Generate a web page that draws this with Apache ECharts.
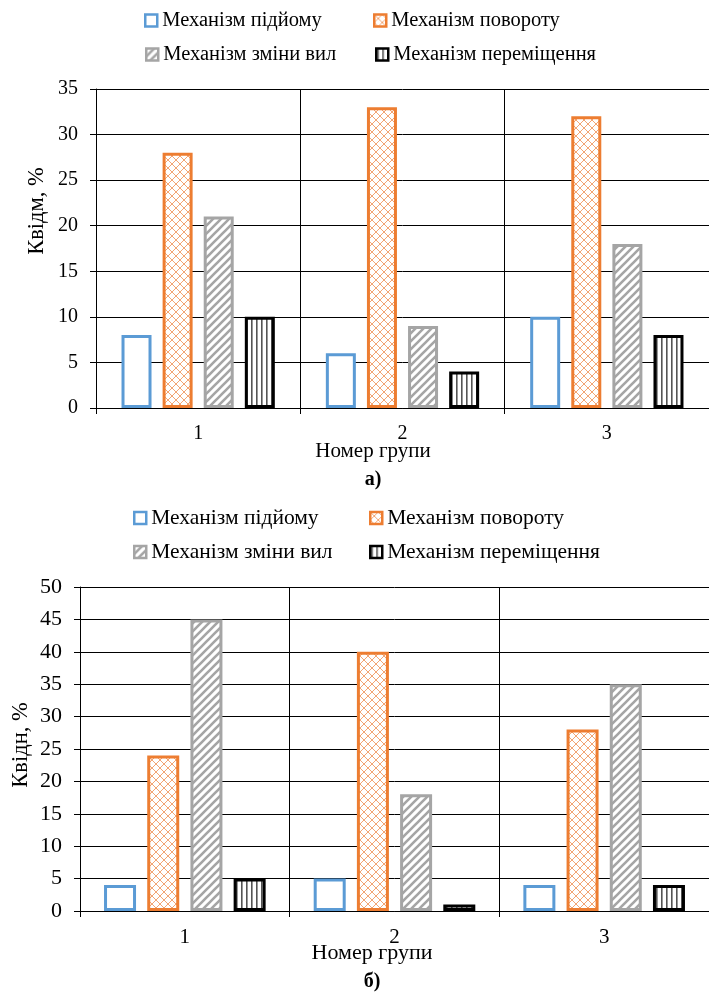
<!DOCTYPE html>
<html>
<head>
<meta charset="utf-8">
<script src="https://cdn.jsdelivr.net/npm/echarts@6/dist/echarts.min.js"></script>
<style>
html,body{margin:0;padding:0;background:#fff;}
#c{width:709px;height:996px;}
</style>
</head>
<body>
<div id="c"></div>
<script>
// ---- data ----
const categories = ['1', '2', '3'];
const seriesNames = ['Механізм підйому', 'Механізм повороту', 'Механізм зміни вил', 'Механізм переміщення'];
// chart а) Квідм, %
const a_lift   = [8, 6, 10];
const a_rotate = [28, 33, 32];
const a_forks  = [21, 9, 18];
const a_move   = [10, 4, 8];
// chart б) Квідн, %
const b_lift   = [4, 5, 4];
const b_rotate = [24, 40, 28];
const b_forks  = [45, 18, 35];
const b_move   = [5, 1, 4];
const yTicksA = {min: 0, max: 35, interval: 5};
const yTicksB = {min: 0, max: 50, interval: 5};

const FONT = "'Times New Roman', 'Liberation Serif', Tinos, 'DejaVu Serif', 'Noto Serif', serif";

function tile(w, h, draw) {
  const c = document.createElement('canvas');
  c.width = w; c.height = h;
  const g = c.getContext('2d');
  g.fillStyle = '#fff';
  g.fillRect(0, 0, w, h);
  draw(g);
  return {image: c, repeat: 'repeat'};
}
const patCross = tile(8, 8, g => {
  g.strokeStyle = '#F2A574'; g.lineWidth = 1;
  g.beginPath();
  g.moveTo(0, 0); g.lineTo(8, 8);
  g.moveTo(8, 0); g.lineTo(0, 8);
  g.stroke();
});
const patDiag = tile(8, 8, g => {
  g.strokeStyle = '#A5A5A5'; g.lineWidth = 2.6;
  g.beginPath();
  g.moveTo(-2, 10); g.lineTo(10, -2);
  g.moveTo(-6, 6); g.lineTo(6, -6);
  g.moveTo(2, 14); g.lineTo(14, 2);
  g.stroke();
});
const patVert = tile(5, 5, g => {
  g.fillStyle = '#555';
  g.fillRect(1, 0, 1.6, 5);
});

const styles = [
  {color: '#fff', borderColor: '#5B9BD5'},
  {color: patCross, borderColor: '#ED7D31'},
  {color: patDiag, borderColor: '#A5A5A5'},
  {color: patVert, borderColor: '#000'}
];

function mkSeries(idx, arrs, bw, gap) {
  return arrs.map((d, i) => ({
    name: seriesNames[i],
    type: 'bar',
    xAxisIndex: idx, yAxisIndex: idx,
    data: d,
    barWidth: bw,
    barGap: gap,
    itemStyle: Object.assign({borderWidth: 3}, styles[i]),
    emphasis: {disabled: true},
    animation: false
  }));
}

function mkLegend(name, left, top, size) {
  return {
    data: [name], left: left, top: top, padding: 0,
    itemWidth: 12, itemHeight: 12, icon: 'rect',
    itemStyle: {borderWidth: 2.5},
    textStyle: {fontFamily: FONT, fontSize: size, color: '#000'},
    selectedMode: false
  };
}

function xAx(gi, size, margin) {
  return {
    type: 'category', gridIndex: gi, data: categories,
    axisLine: {lineStyle: {color: '#000', width: 1}},
    axisTick: {show: true, length: 6, lineStyle: {color: '#000'}},
    splitLine: {show: true, lineStyle: {color: '#000', width: 1}},
    axisLabel: {fontFamily: FONT, fontSize: size, color: '#000', margin: margin}
  };
}
function yAx(gi, t, size) {
  return {
    type: 'value', gridIndex: gi, min: t.min, max: t.max, interval: t.interval,
    axisLine: {show: true, lineStyle: {color: '#000', width: 1}},
    axisTick: {show: true, length: 6, lineStyle: {color: '#000'}},
    splitLine: {show: true, lineStyle: {color: '#000', width: 1}},
    axisLabel: {fontFamily: FONT, fontSize: size, color: '#000', margin: 18}
  };
}

const chart = echarts.init(document.getElementById('c'), null, {renderer: 'canvas'});
chart.setOption({
  backgroundColor: '#fff',
  animation: false,
  legend: [
    mkLegend(seriesNames[0], 144, 10, 20.5),
    mkLegend(seriesNames[1], 373, 10, 20.5),
    mkLegend(seriesNames[2], 145, 44, 20.5),
    mkLegend(seriesNames[3], 375, 44, 20.5),
    mkLegend(seriesNames[0], 133, 507, 21.5),
    mkLegend(seriesNames[1], 369, 507, 21.5),
    mkLegend(seriesNames[2], 133, 541, 21.5),
    mkLegend(seriesNames[3], 369, 541, 21.5)
  ],
  grid: [
    {left: 96, top: 89, width: 613, height: 319},
    {left: 80, top: 587, width: 644, height: 324}
  ],
  xAxis: [xAx(0, 20, 16), xAx(1, 21, 16)],
  yAxis: [yAx(0, yTicksA, 20), yAx(1, yTicksB, 22)],
  series: mkSeries(0, [a_lift, a_rotate, a_forks, a_move], 30, '37%')
    .concat(mkSeries(1, [b_lift, b_rotate, b_forks, b_move], 32, '35%')),
  graphic: [
    {type: 'text', x: 37, y: 211, rotation: Math.PI / 2,
     style: {text: 'Квідм, %', fontFamily: FONT, fontSize: 22.5, fill: '#000', align: 'center', verticalAlign: 'middle'}},
    {type: 'text', x: 21, y: 745, rotation: Math.PI / 2,
     style: {text: 'Квідн, %', fontFamily: FONT, fontSize: 22.5, fill: '#000', align: 'center', verticalAlign: 'middle'}},
    {type: 'text', x: 373, y: 451,
     style: {text: 'Номер групи', fontFamily: FONT, fontSize: 21, fill: '#000', align: 'center', verticalAlign: 'middle'}},
    {type: 'text', x: 373, y: 480,
     style: {text: 'а)', fontFamily: FONT, fontSize: 20, fontWeight: 'bold', fill: '#000', align: 'center', verticalAlign: 'middle'}},
    {type: 'text', x: 372, y: 953,
     style: {text: 'Номер групи', fontFamily: FONT, fontSize: 22, fill: '#000', align: 'center', verticalAlign: 'middle'}},
    {type: 'text', x: 372, y: 982,
     style: {text: 'б)', fontFamily: FONT, fontSize: 20, fontWeight: 'bold', fill: '#000', align: 'center', verticalAlign: 'middle'}}
  ]
});
</script>
</body>
</html>
